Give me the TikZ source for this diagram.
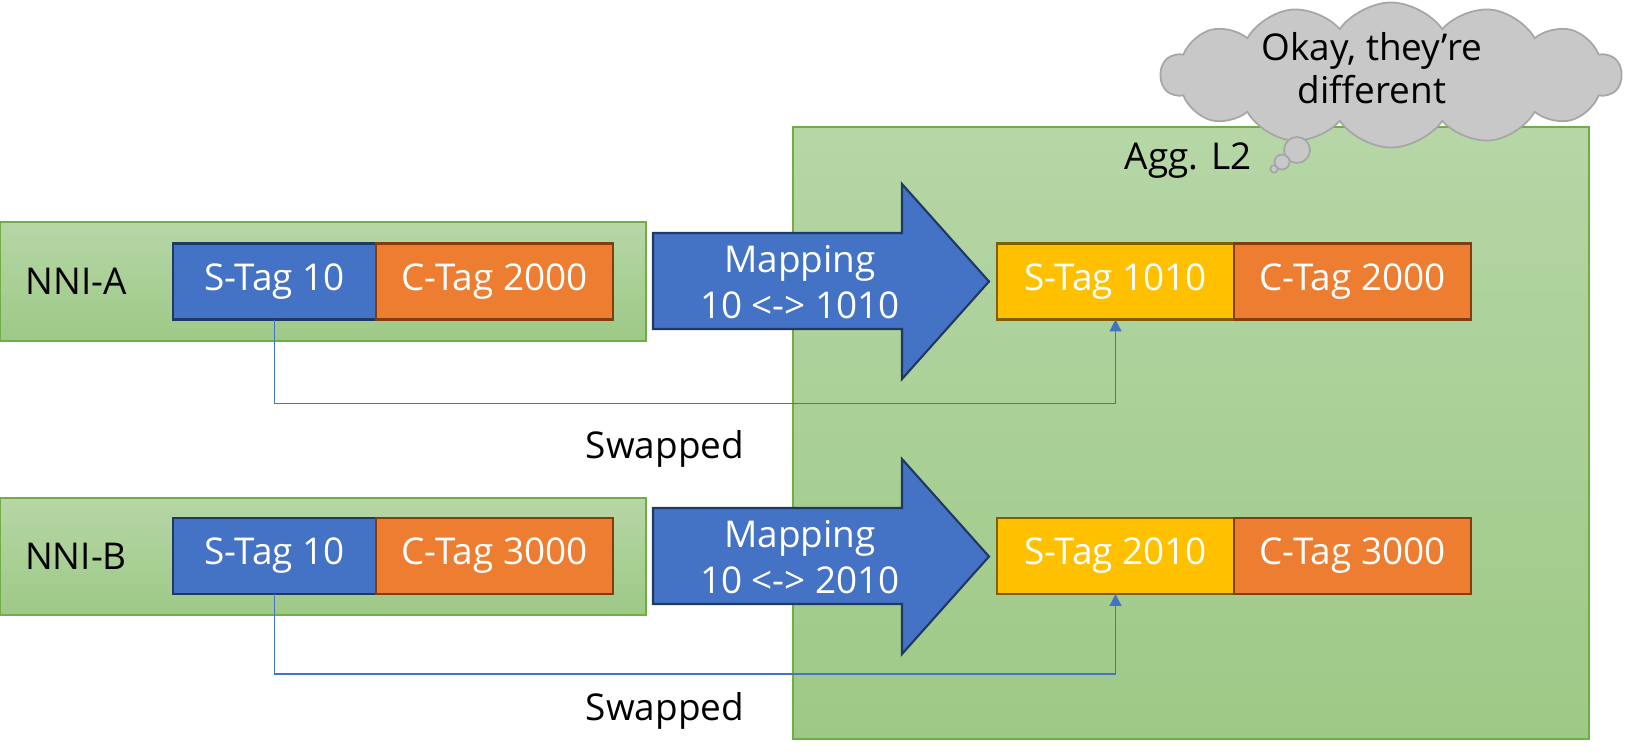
\documentclass[tikz,border=0pt]{standalone}
\usepackage{fontspec}
\setmainfont{Open Sans}
\usetikzlibrary{positioning,shapes.symbols,arrows.meta}

\definecolor{tagblue}{HTML}{4472C4}
\definecolor{tagnavy}{HTML}{203864}
\definecolor{tagorange}{HTML}{ED7D31}
\definecolor{tagbrown}{HTML}{843C0C}
\definecolor{tagyellow}{HTML}{FFC000}
\definecolor{tagdark}{HTML}{7F6000}
\definecolor{boxtop}{RGB}{182,214,166}
\definecolor{boxbottom}{RGB}{157,201,134}
\definecolor{boxline}{HTML}{70AD47}
\definecolor{cloudfill}{RGB}{200,200,200}
\definecolor{cloudline}{RGB}{166,166,166}

\begin{document}
\begin{tikzpicture}[x=0.01cm,y=-0.01cm,line width=0.5pt,
  font=\fontsize{10.5}{12}\selectfont,
  greenbox/.style={draw=boxline,top color=boxtop,bottom color=boxbottom,inner sep=0pt},
  tag/.style={line width=0.6pt,text=white,minimum width=2.37cm,minimum height=0.76cm,inner sep=0pt,outer sep=0pt},
  stag/.style={tag,fill=tagblue,draw=tagnavy},
  ctag/.style={tag,fill=tagorange,draw=tagbrown},
  newtag/.style={tag,fill=tagyellow,draw=tagdark},
  maparrow/.style={fill=tagblue,draw=tagnavy,line width=0.6pt,line join=miter},
  maptext/.style={align=center,text=white,inner sep=0pt,font=\fontsize{10.5}{13}\selectfont},
  swapline/.style={draw=tagblue,line width=0.4pt,-{Triangle[length=3.4pt,width=3.4pt]}},
  lbl/.style={anchor=base,inner sep=0pt}]

  \useasboundingbox (0,0) rectangle (1627,754);

  \node[greenbox,minimum width=7.96cm,minimum height=6.12cm] (agg) at (1191,433) {};
  \node[lbl] (agglabel) at (1188,169) {Agg. L2};

  \node[cloud,cloud puffs=14,cloud puff arc=110,aspect=3.3,fill=cloudfill,draw=cloudline,minimum width=4.6cm,minimum height=1.45cm,inner sep=0pt] (thought) at (1391,75) {};
  \node[align=center,inner sep=0pt,font=\fontsize{10.5}{12.2}\selectfont] (thoughttext) at (1372,68) {Okay, they’re\\different};
  \filldraw[fill=cloudfill,draw=cloudline] (1297,150) circle (0.13cm);
  \filldraw[fill=cloudfill,draw=cloudline] (1282,162) circle (0.075cm);
  \filldraw[fill=cloudfill,draw=cloudline] (1274,169) circle (0.037cm);

  \node[greenbox,minimum width=6.46cm,minimum height=1.19cm] (nnia) at (323,281.5) {};
  \node[lbl] (nnialabel) at (76,294) {NNI-A};
  \node[stag,minimum width=2.03cm] (stagA) at (274.5,281.5) {S-Tag 10};
  \node[ctag,right=0pt of stagA] (ctagA) {C-Tag 2000};

  \node[greenbox,minimum width=6.46cm,minimum height=1.17cm] (nnib) at (323,556.5) {};
  \node[lbl] (nniblabel) at (76,569) {NNI-B};
  \node[stag,minimum width=2.03cm] (stagB) at (274.5,556) {S-Tag 10};
  \node[ctag,right=0pt of stagB] (ctagB) {C-Tag 3000};

  \draw[maparrow] (653,233) -- (902,233) -- (902,184) -- (989,281.5) -- (902,379) -- (902,329) -- (653,329) -- cycle;
  \node[maptext] (mapA) at (800,282) {Mapping\\10 <-> 1010};
  \draw[maparrow] (653,508) -- (902,508) -- (902,459) -- (989,556.5) -- (902,654) -- (902,604) -- (653,604) -- cycle;
  \node[maptext] (mapB) at (800,557) {Mapping\\10 <-> 2010};

  \node[newtag] (ntagA) at (1115.5,281.5) {S-Tag 1010};
  \node[ctag,right=0pt of ntagA] (ctagA2) {C-Tag 2000};
  \node[newtag] (ntagB) at (1115.5,556) {S-Tag 2010};
  \node[ctag,right=0pt of ntagB] (ctagB2) {C-Tag 3000};

  \draw[swapline] (stagA.south) -- ++(0,84) -| (ntagA.south);
  \draw[swapline] (stagB.south) -- ++(0,80) -| (ntagB.south);
  \node[lbl] (swapA) at (665,458) {Swapped};
  \node[lbl] (swapB) at (665,720) {Swapped};
\end{tikzpicture}
\end{document}
